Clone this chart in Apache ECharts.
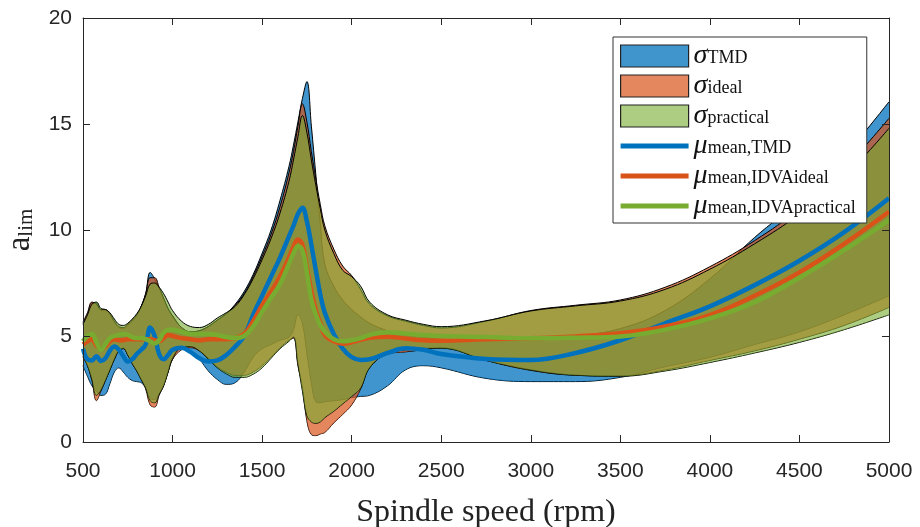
<!DOCTYPE html>
<html><head><meta charset="utf-8">
<script src="https://cdn.jsdelivr.net/npm/echarts@6/dist/echarts.min.js"></script>
<style>html,body{margin:0;padding:0;background:#fff}#c{width:920px;height:527px}</style>
</head><body><div id="c"></div>
<script>
// ---------- data ----------
const rpm = [500,525,550,575,600,625,650,675,700,725,750,775,800,825,850,875,900,925,950,975,1000,
  1050,1100,1150,1200,1250,1300,1350,1400,1450,1500,1550,1600,1650,
  1675,1700,1725,1750,1775,1800,1825,
  1850,1900,1950,2000,2050,2100,
  2200,2300,2400,2500,
  2750,3000,3250,3500,3750,4000,4250,4500,4750,5000];

const muTMD = [4.4,3.9,3.85,4.05,3.82,3.95,4.3,4.5,4.35,4.05,3.8,3.9,4.15,4.35,4.6,5.4,5.0,4.15,3.9,4.1,4.35,
  4.45,4.25,3.95,3.8,3.85,4.1,4.5,5.0,6.0,6.9,7.8,8.7,9.7,
  10.2,10.75,11.05,10.4,9.3,8.1,6.95,
  6.1,5.1,4.4,4.0,3.87,3.9,
  4.2,4.42,4.35,4.15,
  3.92,3.87,4.2,4.8,5.6,6.4,7.4,8.55,9.9,11.5];

const muIdeal = [4.6,4.75,4.85,4.55,4.4,4.5,4.75,4.85,4.8,4.8,4.85,4.85,4.85,4.85,4.85,4.85,4.8,4.75,4.9,5.05,5.0,
  4.9,4.85,4.8,4.85,4.85,4.85,4.9,5.1,5.7,6.45,7.1,7.8,8.7,
  9.2,9.55,9.3,8.2,7.1,6.2,5.6,
  5.05,4.75,4.63,4.7,4.82,4.92,
  4.97,4.88,4.8,4.78,
  4.85,4.89,4.98,5.13,5.45,5.99,6.9,8.0,9.35,10.86];

const muPractical = [4.75,5.0,5.1,4.7,4.35,4.6,4.9,5.0,5.05,5.1,5.05,4.95,4.9,4.9,4.85,4.75,4.65,4.8,5.15,5.3,5.3,
  5.2,5.1,5.1,5.1,5.05,4.95,4.9,5.0,5.45,6.15,6.8,7.45,8.4,
  8.9,9.25,9.05,8.0,6.7,6.0,5.5,
  5.2,4.85,4.75,4.8,4.9,5.05,
  5.18,5.12,5.05,5.0,
  4.95,4.89,4.92,4.98,5.3,5.83,6.6,7.75,9.05,10.47];

const tmdUpper = [5.6,6.0,6.55,6.55,6.2,6.2,6.0,5.65,5.4,5.35,5.5,5.7,5.95,6.4,7.0,8.0,7.7,7.25,6.75,6.3,5.95,
  5.4,5.2,5.25,5.45,5.75,6.05,6.5,7.1,7.9,8.9,10.0,11.4,13.0,
  14.0,15.1,16.2,17.0,14.9,12.6,10.3,
  8.4,7.35,6.7,6.25,5.9,5.6,
  5.25,5.05,4.95,4.85,
  4.8,4.85,5.0,5.35,6.2,7.7,9.65,11.4,13.5,16.05];

const tmdLower = [3.6,3.1,2.65,2.4,2.2,2.25,2.75,3.3,3.5,3.3,3.05,2.9,2.85,2.8,2.55,2.05,2.0,2.3,2.7,3.3,3.9,
  4.4,4.25,3.9,3.35,2.95,2.72,2.8,3.3,4.0,4.4,4.6,4.8,4.95,
  5.3,6.0,5.6,4.2,2.8,1.9,1.85,
  1.9,1.95,2.0,2.1,2.15,2.2,
  2.65,3.4,3.6,3.5,
  3.0,2.85,2.85,3.05,3.55,4.0,4.6,5.2,6.0,6.9];

const idealUpper = [5.65,6.1,6.6,6.5,6.25,6.25,6.05,5.7,5.45,5.4,5.55,5.75,6.0,6.4,7.0,7.75,7.75,7.3,6.8,6.3,5.95,
  5.4,5.2,5.25,5.45,5.75,6.05,6.45,7.0,7.8,8.75,9.8,11.1,12.7,
  13.7,14.9,15.95,15.1,13.7,12.4,11.2,
  10.2,9.1,8.3,7.85,7.2,6.5,
  5.95,5.7,5.5,5.38,
  5.7,6.2,6.45,6.7,7.3,8.27,9.5,11.0,12.9,15.27];

const idealLower = [4.0,3.6,2.9,1.95,2.4,2.9,3.4,3.9,4.3,4.4,4.1,3.7,3.35,2.95,2.5,1.75,1.65,2.2,2.65,3.3,3.9,
  4.35,4.45,4.3,3.95,3.55,3.3,3.15,3.15,3.3,3.6,4.0,4.45,4.8,
  4.9,3.6,2.6,1.0,0.35,0.3,0.38,
  0.45,0.9,1.3,1.75,2.5,3.5,
  4.15,4.25,4.35,4.45,
  3.85,3.38,3.15,3.12,3.4,3.85,4.3,4.85,5.5,6.35];

const practicalUpper = [5.55,6.0,6.5,6.6,6.3,6.25,6.1,5.8,5.55,5.5,5.6,5.8,6.05,6.4,6.9,7.45,7.5,7.3,7.0,6.6,6.2,
  5.7,5.45,5.4,5.55,5.85,6.1,6.4,6.95,7.7,8.6,9.6,10.8,12.3,
  13.3,14.4,15.4,14.6,13.3,12.1,11.0,
  10.0,8.9,8.1,7.8,7.35,6.6,
  6.0,5.75,5.55,5.44,
  5.72,6.18,6.42,6.65,7.2,8.15,9.35,10.75,12.5,14.8];

const practicalLower = [4.05,3.6,2.95,2.2,2.45,2.9,3.4,3.9,4.3,4.42,4.1,3.7,3.35,2.95,2.55,1.95,1.85,2.25,2.65,3.3,3.95,
  4.47,4.5,4.3,3.9,3.5,3.22,3.05,3.05,3.2,3.5,3.95,4.4,4.75,
  4.95,3.7,2.4,1.25,0.95,0.88,0.95,
  1.15,1.45,1.8,2.15,2.55,3.5,
  4.2,4.35,4.42,4.42,
  3.85,3.4,3.15,3.1,3.35,3.75,4.2,4.7,5.3,6.0];

const legendNames = ['sTMD','sIdeal','sPractical','mTMD','mIdeal','mPractical'];
const legendLabels = {
  sTMD: '{g|σ}{s|TMD}',
  sIdeal: '{g|σ}{s|ideal}',
  sPractical: '{g|σ}{s|practical}',
  mTMD: '{g|μ}{s|mean,TMD}',
  mIdeal: '{g|μ}{s|mean,IDVAideal}',
  mPractical: '{g|μ}{s|mean,IDVApractical}'
};

// ---------- styles ----------
const SM = 0.4;
const SERIF = '"Liberation Serif", "DejaVu Serif", serif';
const SANS = '"Liberation Sans", Arial, sans-serif';
const bandFill = {sTMD:'rgba(0,114,189,0.75)', sIdeal:'rgba(217,83,25,0.7)', sPractical:'rgba(119,172,48,0.6)'};
const bandSwatch = {sTMD:'#4095CD', sIdeal:'#E4875E', sPractical:'#ADCD83'};
const lineColor = {mTMD:'#0072BD', mIdeal:'#D95319', mPractical:'#77AC30'};

function band(name, lower, upper, zBase) {
  const common = {type:'line', stack:name, symbol:'none', smooth:SM,
    encode:{x:1, y:0}, silent:true, lineStyle:{color:'#000', width:1}};
  return [
    Object.assign({}, common, {name:name+'_low', z:zBase, data: rpm.map((x,i)=>[lower[i], x])}),
    Object.assign({}, common, {name:name, z:zBase+1, data: rpm.map((x,i)=>[upper[i]-lower[i], x]),
      areaStyle:{color:bandFill[name], opacity:1}, itemStyle:{color:bandSwatch[name]}})
  ];
}
function mean(name, vals, z) {
  return {name, type:'line', symbol:'none', smooth:SM, silent:true, z:z,
    data: rpm.map((x,i)=>[x, vals[i]]), lineStyle:{color:lineColor[name], width:4.5},
    itemStyle:{color:lineColor[name]}};
}

const axisCol = '#262626';
const chart = echarts.init(document.getElementById('c'), null, {renderer:'canvas'});
chart.setOption({
  animation:false,
  backgroundColor:'#fff',
  grid:{left:83, right:31, top:18, bottom:85, containLabel:false, outerBoundsMode:'none'},
  xAxis:[
    {type:'value', min:500, max:5000, interval:500, position:'bottom',
     name:'Spindle speed (rpm)', nameLocation:'middle', nameGap:55,
     nameTextStyle:{fontFamily:SERIF, fontSize:32, color:'#222'},
     axisLine:{show:true, lineStyle:{color:axisCol, width:1}},
     axisTick:{show:true, inside:true, length:7, lineStyle:{color:axisCol}},
     axisLabel:{fontFamily:SANS, fontSize:21, color:axisCol, margin:19, formatter: v => String(v)},
     splitLine:{show:false}, z:20},
    {type:'value', min:500, max:5000, interval:500, position:'top',
     axisLine:{show:true, onZero:false, lineStyle:{color:axisCol, width:1}},
     axisTick:{show:true, inside:true, length:7, lineStyle:{color:axisCol}},
     axisLabel:{show:false}, splitLine:{show:false}, z:20}
  ],
  yAxis:[
    {type:'value', min:0, max:20, interval:5, position:'left',
     name:'{a|a}{s|lim}', nameLocation:'middle', nameGap:46, nameRotate:90,
     nameTextStyle:{rich:{a:{fontFamily:SERIF, fontSize:33, color:'#222'}, s:{fontFamily:SERIF, fontSize:21, color:'#222', verticalAlign:'bottom', lineHeight:14}}},
     axisLine:{show:true, lineStyle:{color:axisCol, width:1}},
     axisTick:{show:true, inside:true, length:7, lineStyle:{color:axisCol}},
     axisLabel:{fontFamily:SANS, fontSize:21, color:axisCol, margin:11, formatter: v => String(v)},
     splitLine:{show:false}, z:20},
    {type:'value', min:0, max:20, interval:5, position:'right',
     axisLine:{show:true, onZero:false, lineStyle:{color:axisCol, width:1}},
     axisTick:{show:true, inside:true, length:7, lineStyle:{color:axisCol}},
     axisLabel:{show:false}, splitLine:{show:false}, z:20}
  ],
  legend:{
    orient:'vertical', left:613, top:37, padding:[5,11,3,7], itemGap:2,
    itemWidth:68, itemHeight:22, selectedMode:false, z:30,
    backgroundColor:'#fff', borderColor:'#333', borderWidth:1, borderRadius:0,
    formatter: n => legendLabels[n],
    textStyle:{color:'#111', rich:{
      g:{fontFamily:SERIF, fontStyle:'italic', fontSize:28, lineHeight:22, color:'#111'},
      s:{fontFamily:SERIF, fontSize:18, lineHeight:14, verticalAlign:'bottom', color:'#111'}}},
    data:[
      {name:'sTMD', icon:'rect', itemStyle:{color:bandSwatch.sTMD, borderColor:'#222', borderWidth:1.2}},
      {name:'sIdeal', icon:'rect', itemStyle:{color:bandSwatch.sIdeal, borderColor:'#222', borderWidth:1.2}},
      {name:'sPractical', icon:'rect', itemStyle:{color:bandSwatch.sPractical, borderColor:'#222', borderWidth:1.2}},
      {name:'mTMD', icon:'path://M0,0L68,0L68,5L0,5Z', itemStyle:{color:lineColor.mTMD, borderWidth:0}},
      {name:'mIdeal', icon:'path://M0,0L68,0L68,5L0,5Z', itemStyle:{color:lineColor.mIdeal, borderWidth:0}},
      {name:'mPractical', icon:'path://M0,0L68,0L68,5L0,5Z', itemStyle:{color:lineColor.mPractical, borderWidth:0}}
    ]
  },
  series:[
    ...band('sTMD', tmdLower, tmdUpper, 1),
    ...band('sIdeal', idealLower, idealUpper, 3),
    ...band('sPractical', practicalLower, practicalUpper, 5),
    mean('mTMD', muTMD, 10),
    mean('mIdeal', muIdeal, 11),
    mean('mPractical', muPractical, 12)
  ]
});
</script></body></html>
